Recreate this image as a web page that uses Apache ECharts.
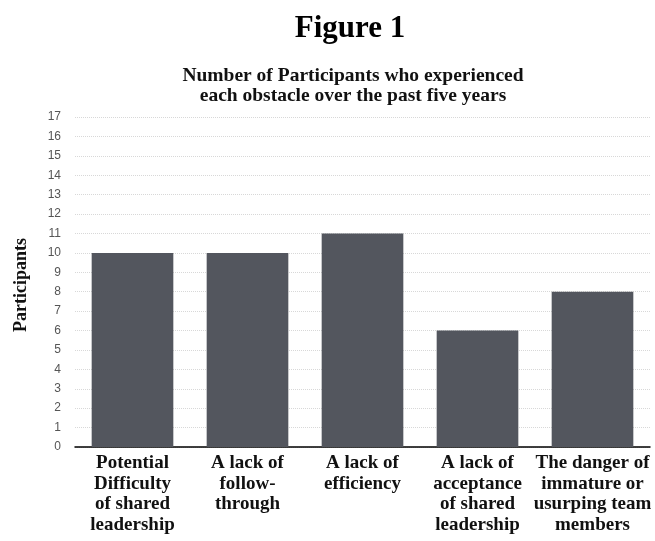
<!DOCTYPE html>
<html>
<head>
<meta charset="utf-8">
<script src="https://cdn.jsdelivr.net/npm/echarts@6/dist/echarts.min.js"></script>
<style>html,body{margin:0;padding:0;background:#fff}#c{width:655px;height:541px}</style>
</head>
<body>
<div id="c"></div>
<script>
const categories = [
  "Potential\nDifficulty\nof shared\nleadership",
  "A lack of\nfollow-\nthrough",
  "A lack of\nefficiency",
  "A lack of\nacceptance\nof shared\nleadership",
  "The danger of\nimmature or\nusurping team\nmembers"
];
const participants = [10, 10, 11, 6, 8];

const chart = echarts.init(document.getElementById('c'));
chart.setOption({
  animation: false,
  title: [
    { text: 'Figure 1', left: 345, textAlign: 'center', top: 8,
      textStyle: { fontFamily: 'Liberation Serif', fontWeight: 'bold', fontSize: 31, color: '#000' } },
    { text: 'Number of Participants who experienced\neach obstacle over the past five years', left: 348, textAlign: 'center', top: 61,
      textStyle: { fontFamily: 'Liberation Serif', fontWeight: 'bold', fontSize: 19.5, lineHeight: 20, color: '#111' } }
  ],
  grid: { left: 75, right: 5, top: 117, bottom: 94, containLabel: false, outerBoundsMode: 'none' },
  xAxis: {
    type: 'category',
    data: categories,
    axisLine: { lineStyle: { color: '#000', width: 1.5 } },
    axisTick: { show: false },
    axisLabel: { interval: 0, fontFamily: 'Liberation Serif', fontWeight: 'bold', fontSize: 19, lineHeight: 20.5, color: '#111', margin: 6 }
  },
  yAxis: {
    type: 'value', min: 0, max: 17, interval: 1,
    name: 'Participants', nameLocation: 'middle', nameGap: 45, nameRotate: 90,
    nameTextStyle: { fontFamily: 'Liberation Serif', fontWeight: 'bold', fontSize: 18, color: '#111', padding: [0, 6, 0, 0] },
    axisLine: { show: false },
    axisTick: { show: false },
    axisLabel: { fontFamily: 'Liberation Sans', fontSize: 12, color: '#555', margin: 14 },
    splitLine: { lineStyle: { type: 'dotted', color: '#d8d8d8' } }
  },
  series: [{
    type: 'bar',
    data: participants,
    barWidth: '71%',
    itemStyle: { color: '#53565e' }
  }]
});
</script>
</body>
</html>
